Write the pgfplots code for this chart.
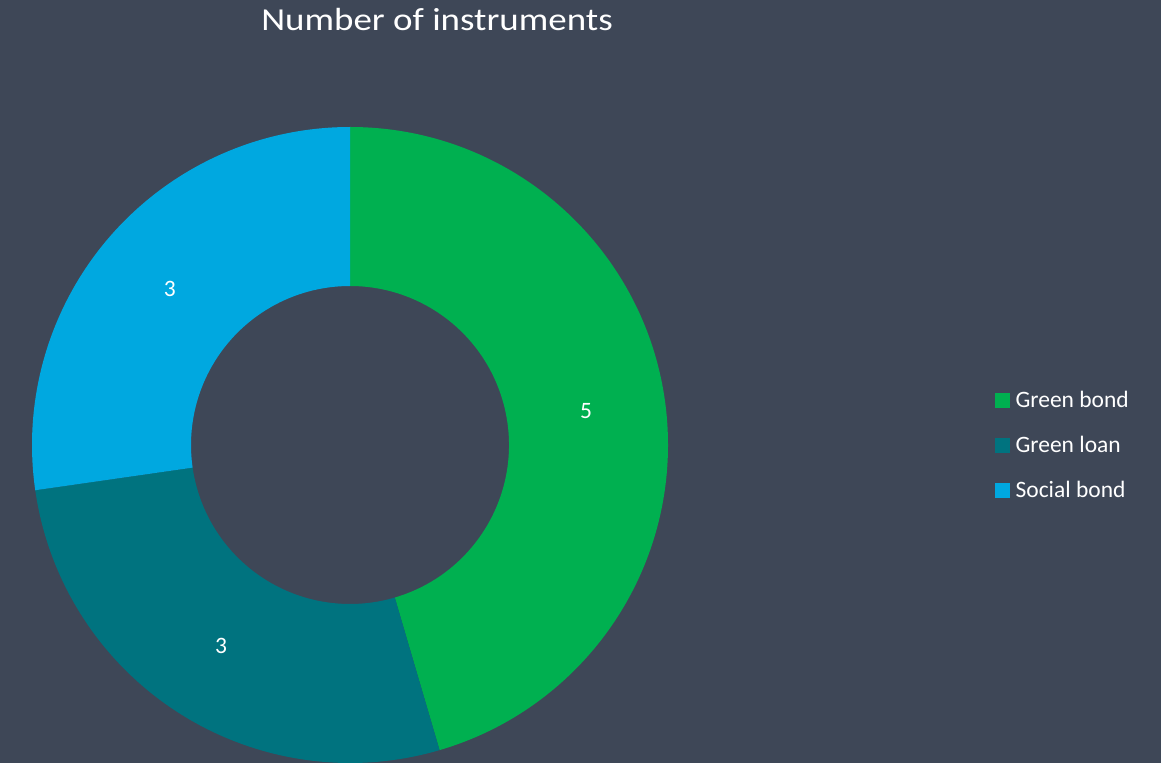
\documentclass[border=0pt]{standalone}
\usepackage{pgfplots}
\pgfplotsset{compat=1.18}
\usepackage{pgfplotstable}
\usepackage{fontspec}
\setmainfont{Carlito}
\definecolor{bgc}{RGB}{62,71,87}
\definecolor{gbond}{RGB}{0,176,80}
\definecolor{gloan}{RGB}{0,115,127}
\definecolor{sbond}{RGB}{0,168,224}

\pgfplotstableread{
label value
{Green bond} 5
{Green loan} 3
{Social bond} 3
}\instruments

\begin{document}
\begin{tikzpicture}
\pgfplotstablegetelem{0}{value}\of\instruments \let\vA\pgfplotsretval
\pgfplotstablegetelem{1}{value}\of\instruments \let\vB\pgfplotsretval
\pgfplotstablegetelem{2}{value}\of\instruments \let\vC\pgfplotsretval
\pgfmathsetmacro\tot{\vA+\vB+\vC}
\pgfmathsetmacro\aA{90}
\pgfmathsetmacro\aB{\aA-360*\vA/\tot}
\pgfmathsetmacro\aC{\aB-360*\vB/\tot}
\pgfmathsetmacro\aD{\aC-360*\vC/\tot}
\pgfmathsetmacro\mA{(\aA+\aB)/2}
\pgfmathsetmacro\mB{(\aB+\aC)/2}
\pgfmathsetmacro\mC{(\aC+\aD)/2}
\begin{axis}[
  scale only axis, width=1161pt, height=763pt,
  xmin=0, xmax=1161, ymin=0, ymax=763,
  hide axis,
  legend cell align=left,
  legend style={at={(axis cs:992,376)}, anchor=north west, draw=none, fill=none,
    font=\fontsize{23.5}{26}\selectfont, text=white, row sep=23pt,
    /tikz/every odd column/.style={column sep=4pt}},
  legend image code/.code={\fill[#1] (0pt,-7pt) rectangle (14pt,7pt);},
]
\fill[bgc] (rel axis cs:0,0) rectangle (rel axis cs:1,1);
\fill[gbond, shift={(axis cs:350,318)}] (\aA:318pt) arc[start angle=\aA, end angle=\aB, radius=318pt] -- (\aB:159pt) arc[start angle=\aB, end angle=\aA, radius=159pt] -- cycle;
\fill[gloan, shift={(axis cs:350,318)}] (\aB:318pt) arc[start angle=\aB, end angle=\aC, radius=318pt] -- (\aC:159pt) arc[start angle=\aC, end angle=\aB, radius=159pt] -- cycle;
\fill[sbond, shift={(axis cs:350,318)}] (\aC:318pt) arc[start angle=\aC, end angle=\aD, radius=318pt] -- (\aD:159pt) arc[start angle=\aD, end angle=\aC, radius=159pt] -- cycle;
\node[text=white, font=\fontsize{23.5}{26}\selectfont, shift={(axis cs:350,318)}] at (\mA:238.5pt) {\vA};
\node[text=white, font=\fontsize{23.5}{26}\selectfont, shift={(axis cs:350,318)}] at (\mB:238.5pt) {\vB};
\node[text=white, font=\fontsize{23.5}{26}\selectfont, shift={(axis cs:350,318)}] at (\mC:238.5pt) {\vC};
\node[text=white, anchor=base, inner sep=0pt, font=\fontsize{32}{36}\selectfont] at (axis cs:437,732) {\scalebox{1.155}[1]{Number of instruments}};
\addlegendimage{gbond}\addlegendentry{Green bond}
\addlegendimage{gloan}\addlegendentry{Green loan}
\addlegendimage{sbond}\addlegendentry{Social bond}
\end{axis}
\end{tikzpicture}
\end{document}
